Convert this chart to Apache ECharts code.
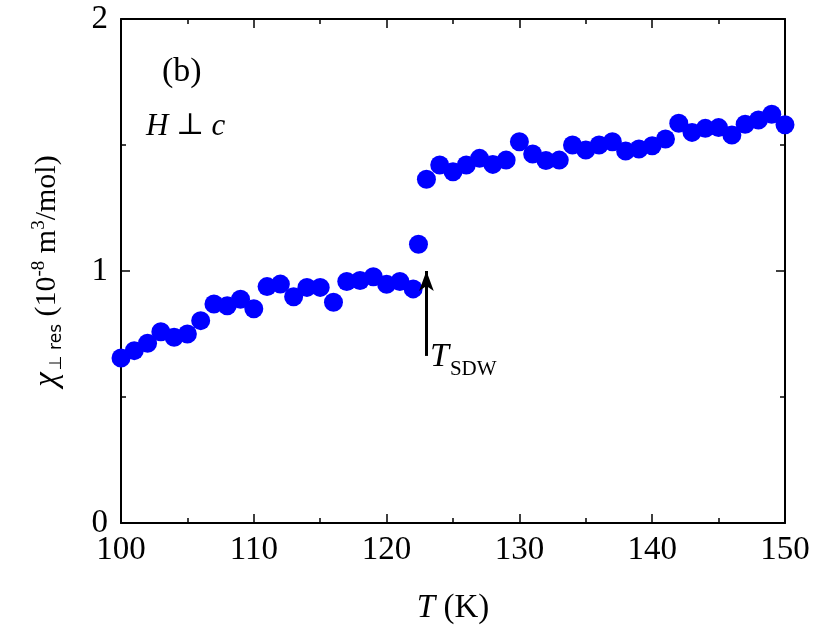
<!DOCTYPE html>
<html>
<head>
<meta charset="utf-8">
<script src="https://cdn.jsdelivr.net/npm/echarts@6/dist/echarts.min.js"></script>
<style>
  html, body { margin: 0; padding: 0; background: #fff; }
  #chart { width: 830px; height: 637px; }
</style>
</head>
<body>
<div id="chart"></div>
<script>
// temperature (K)
const temps = [
  100, 101, 102, 103, 104, 105, 106, 107, 108, 109, 110,
  111, 112, 113, 114, 115, 116, 117, 118, 119, 120, 121, 122, 122.4,
  123, 124, 125, 126, 127, 128, 129, 130, 131, 132, 133, 134, 135, 136,
  137, 138, 139, 140, 141, 142, 143, 144, 145, 146, 147, 148, 149, 150
];
// chi_perp res (1e-8 m^3/mol)
const chiRes = [
  0.655, 0.684, 0.713, 0.759, 0.737, 0.750, 0.803, 0.869, 0.862, 0.888, 0.850,
  0.938, 0.948, 0.898, 0.935, 0.935, 0.876, 0.958, 0.962, 0.977, 0.947, 0.958, 0.929, 1.106,
  1.364, 1.421, 1.394, 1.421, 1.447, 1.423, 1.440, 1.513, 1.464, 1.438, 1.440, 1.500, 1.480, 1.500,
  1.513, 1.476, 1.484, 1.497, 1.524, 1.586, 1.550, 1.566, 1.569, 1.540, 1.582, 1.599, 1.622, 1.580
];
const xTicks = [100, 110, 120, 130, 140, 150];
const yTicks = [0, 1, 2];
const tSdw = 123;

const serif = '"Liberation Serif", "DejaVu Serif", serif';
const chart = echarts.init(document.getElementById("chart"));

const axisCommon = {
  axisLine: { show: true, onZero: false, lineStyle: { color: "#000", width: 2 } },
  axisTick: { show: true, inside: true, length: 9, lineStyle: { color: "#000", width: 1.5 } },
  minorTick: { show: true, splitNumber: 2, length: 5, lineStyle: { color: "#000", width: 1.5 } },
  splitLine: { show: false },
};

chart.setOption({
  animation: false,
  backgroundColor: "#fff",
  grid: { left: 121, right: 45, top: 19, bottom: 114 },
  xAxis: [
    {
      type: "value",
      min: xTicks[0],
      max: xTicks[xTicks.length - 1],
      interval: 10,
      position: "bottom",
      ...axisCommon,
      axisLabel: { color: "#000", fontFamily: serif, fontSize: 33, margin: 11 },
      name: "{it|T} (K)",
      nameLocation: "middle",
      nameGap: 69,
      nameTextStyle: {
        color: "#000", fontFamily: serif, fontSize: 33,
        rich: { it: { fontStyle: "italic", fontFamily: serif, fontSize: 33, color: "#000" } },
      },
    },
    {
      type: "value",
      min: xTicks[0],
      max: xTicks[xTicks.length - 1],
      interval: 10,
      position: "top",
      ...axisCommon,
      axisLabel: { show: false },
    },
  ],
  yAxis: [
    {
      type: "value",
      min: yTicks[0],
      max: yTicks[yTicks.length - 1],
      interval: 1,
      position: "left",
      ...axisCommon,
      axisLabel: { color: "#000", fontFamily: serif, fontSize: 33, margin: 13 },
      name: "{chi|χ}{sub|⊥ res} (10{sup|-8} m{sup|3}/mol)",
      nameLocation: "middle",
      nameGap: 56,
      nameRotate: 90,
      nameTextStyle: {
        color: "#000", fontFamily: serif, fontSize: 30,
        rich: {
          chi: { fontStyle: "italic", fontFamily: serif, fontSize: 33, color: "#000" },
          sub: { fontFamily: "DejaVu Sans", fontSize: 17, color: "#000", verticalAlign: "bottom", padding: [14, 0, 0, 2] },
          sup: { fontFamily: serif, fontSize: 19, color: "#000", verticalAlign: "top", padding: [0, 0, 16, 0] },
        },
      },
    },
    {
      type: "value",
      min: yTicks[0],
      max: yTicks[yTicks.length - 1],
      interval: 1,
      position: "right",
      ...axisCommon,
      axisLabel: { show: false },
    },
  ],
  graphic: [
    {
      type: "text",
      left: 162,
      top: 55,
      style: { text: "(b)", font: "34px " + serif, fill: "#000" },
    },
    {
      type: "text",
      left: 146,
      top: 111,
      style: {
        text: "{it|H} ⊥ {it|c}",
        font: "30px " + serif,
        fill: "#000",
        rich: { it: { fontStyle: "italic", fontFamily: serif, fontSize: 31 } },
      },
    },
    {
      type: "text",
      left: 430,
      top: 340,
      style: {
        text: "{it|T}{sub|SDW}",
        fill: "#000",
        rich: {
          it: { fontStyle: "italic", fontFamily: serif, fontSize: 34, fill: "#000" },
          sub: { fontFamily: serif, fontSize: 21, fill: "#000", verticalAlign: "bottom", padding: [24, 0, 0, 1] },
        },
      },
    },
  ],
  series: [
    {
      type: "scatter",
      symbol: "circle",
      symbolSize: 19,
      itemStyle: { color: "#0000ff", opacity: 1 },
      data: temps.map((t, i) => [t, chiRes[i]]),
      markLine: {
        silent: true,
        symbol: ["none", "arrow"],
        symbolSize: [11, 20],
        label: { show: false },
        lineStyle: { color: "#000", width: 3, type: "solid" },
        data: [[{ coord: [tSdw, 0.663] }, { coord: [tSdw, 1.0] }]],
      },
    },
  ],
});
</script>
</body>
</html>
